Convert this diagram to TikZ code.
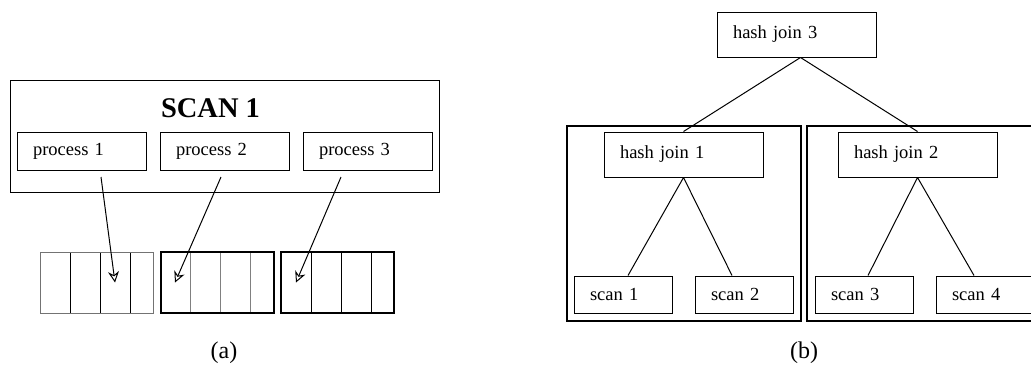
\documentclass[tikz,border=0pt]{standalone}
\usepackage{fontspec}
\setmainfont{Liberation Serif}
\usetikzlibrary{arrows.meta, positioning}

\begin{document}
\begin{tikzpicture}[x=0.5pt, y=-0.5pt,
    font=\fontsize{9.25}{11}\selectfont,
    procbox/.style={draw, line width=0.5pt, minimum height=19pt, text width=48.5pt, inner xsep=8pt, align=left},
    joinbox/.style={draw, line width=0.5pt, minimum height=22.5pt, text width=63.5pt, inner xsep=8pt, align=left},
    leafbox/.style={draw, line width=0.5pt, minimum height=18.5pt, text width=33pt, inner xsep=8pt, align=left},
    groupbox/.style={draw, line width=1pt, minimum width=117pt, minimum height=97.5pt},
    cellbox/.style={draw, line width=0.5pt, minimum width=15pt, minimum height=30.5pt, inner sep=0pt},
    arrbox/.style={draw, minimum width=56.5pt, minimum height=30.5pt, inner sep=0pt},
    ptr/.style={-{Stealth[open, length=5.5pt, width=5.5pt]}, line width=0.5pt}]
    \useasboundingbox (0,0) rectangle (1031,380);
    % (a)
    \node[draw, line width=0.5pt, minimum width=214.5pt, minimum height=56pt] (scan) at (224.5,136) {};
    \node[font=\fontsize{14.25}{16}\selectfont\bfseries] (title) at (210.5,108) {SCAN 1};
    \node[procbox] (p1) at (81.5,151) {process 1};
    \node[procbox] (p2) at (224.5,151) {process 2};
    \node[procbox] (p3) at (367.5,151) {process 3};
    \foreach \a/\x/\col in {1/40/black,2/160/black!50,3/281/black}
        \foreach \i in {0,1,2}
            \node[cellbox, draw=\col] (c\a\i) at (\x+15+30*\i,282.5) {};
    \node[arrbox, draw=black!55, line width=0.5pt] (arr1) at (96.5,282.5) {};
    \node[arrbox, line width=1pt] (arr2) at (217,282.5) {};
    \node[arrbox, line width=1pt] (arr3) at (337.5,282.5) {};
    \coordinate (s1) at (101,177);
    \coordinate (s2) at (221,177);
    \coordinate (s3) at (341,177);
    \draw[ptr] (s1) -- (c12.center);
    \draw[ptr] (s2) -- (c20.center);
    \draw[ptr] (s3) -- (c30.center);
    \node[font=\fontsize{12}{14}\selectfont] (la) at (224,353) {(a)};
    % (b)
    \node[groupbox] (g1) at (684,223.5) {};
    \node[groupbox] (g2) at (924,223.5) {};
    \node[joinbox] (hj3) at (796.5,34.5) {hash join 3};
    \node[joinbox] (hj1) at (683.5,154.5) {hash join 1};
    \node[joinbox] (hj2) at (917.5,154.5) {hash join 2};
    \node[leafbox] (sc1) at (623,294.5) {scan 1};
    \node[leafbox] (sc2) at (744,294.5) {scan 2};
    \node[leafbox] (sc3) at (864,294.5) {scan 3};
    \node[leafbox] (sc4) at (985,294.5) {scan 4};
    \draw[line width=0.5pt]
        ([xshift=2pt]hj3.south) -- (hj1.north)
        ([xshift=2pt]hj3.south) -- (hj2.north)
        (hj1.south) -- ([xshift=2.5pt]sc1.north)
        (hj1.south) -- ([xshift=-6pt]sc2.north)
        (hj2.south) -- ([xshift=2pt]sc3.north)
        (hj2.south) -- ([xshift=-5.5pt]sc4.north);
    \node[font=\fontsize{12}{14}\selectfont] (lb) at (804,353) {(b)};
\end{tikzpicture}
\end{document}
